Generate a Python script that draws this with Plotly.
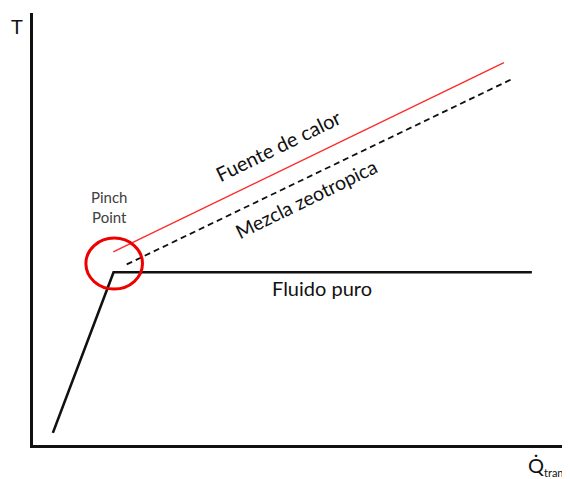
import plotly.graph_objects as go

# Data (schematic units: Q from 0..100, T from 0..100)
fluido_q = [3.7, 15.0, 92.9]
fluido_t = [2.8, 40.0, 40.0]
fuente_q = [14.95, 87.7]
fuente_t = [44.7, 88.5]
mezcla_q = [17.45, 89.6]
mezcla_t = [41.8, 84.95]
pinch_center = (15.12, 42.0)
pinch_radius = (5.27, 5.9)

FONT = "Lato"
BODY = 8  # default page body margin in the browser

fig = go.Figure()
fig.add_trace(go.Scatter(x=fluido_q, y=fluido_t, mode="lines",
                         line=dict(color="#111111", width=2.6), hoverinfo="skip"))
fig.add_trace(go.Scatter(x=fuente_q, y=fuente_t, mode="lines",
                         line=dict(color="#ff2a2a", width=1.4), hoverinfo="skip"))
fig.add_trace(go.Scatter(x=mezcla_q, y=mezcla_t, mode="lines",
                         line=dict(color="#111111", width=1.8, dash="6px,4px"), hoverinfo="skip"))

cx, cy = pinch_center
rx, ry = pinch_radius
fig.add_shape(type="circle", xref="x", yref="y",
              x0=cx - rx, x1=cx + rx, y0=cy - ry, y1=cy + ry,
              line=dict(color="#ee0000", width=3))

fig.add_annotation(x=45.8, y=69.5, text="Fuente de calor", showarrow=False,
                   textangle=-26, font=dict(family=FONT, size=20, color="#111111"))
fig.add_annotation(x=51.0, y=57.0, text="Mezcla zeotropica", showarrow=False,
                   textangle=-26, font=dict(family=FONT, size=19.5, color="#111111"))
fig.add_annotation(x=53.8, y=36.3, text="Fluido puro", showarrow=False,
                   font=dict(family=FONT, size=20, color="#111111"))
fig.add_annotation(x=14.1, y=55.2, text="Pinch<br>Point", showarrow=False,
                   font=dict(family=FONT, size=15, color="#404040"))

PW, PH = 537, 432  # plot area in pixels
fig.add_annotation(xref="paper", yref="paper", x=(17 - 33) / PW, y=(445 - 26) / PH,
                   xanchor="center", yanchor="middle", text="T", showarrow=False,
                   font=dict(family=FONT, size=20, color="#111111"))
fig.add_annotation(xref="paper", yref="paper", x=(526 - 33) / PW, y=(445 - 466) / PH,
                   xanchor="left", yanchor="middle",
                   text="Q̇<sub><span style='font-size:11px'>trans</span></sub>",
                   showarrow=False,
                   font=dict(family=FONT, size=20, color="#111111"))

fig.update_layout(
    width=570 - BODY, height=479 - BODY,
    margin=dict(l=33 - BODY, r=0, t=13 - BODY, b=34, pad=0),
    paper_bgcolor="white", plot_bgcolor="white",
    showlegend=False,
    xaxis=dict(range=[0, 100], showgrid=False, zeroline=False, showticklabels=False,
               ticks="", showline=True, linecolor="#111111", linewidth=3, fixedrange=True),
    yaxis=dict(range=[0, 100], showgrid=False, zeroline=False, showticklabels=False,
               ticks="", showline=True, linecolor="#111111", linewidth=3, fixedrange=True),
)

fig.write_html("out.html")
